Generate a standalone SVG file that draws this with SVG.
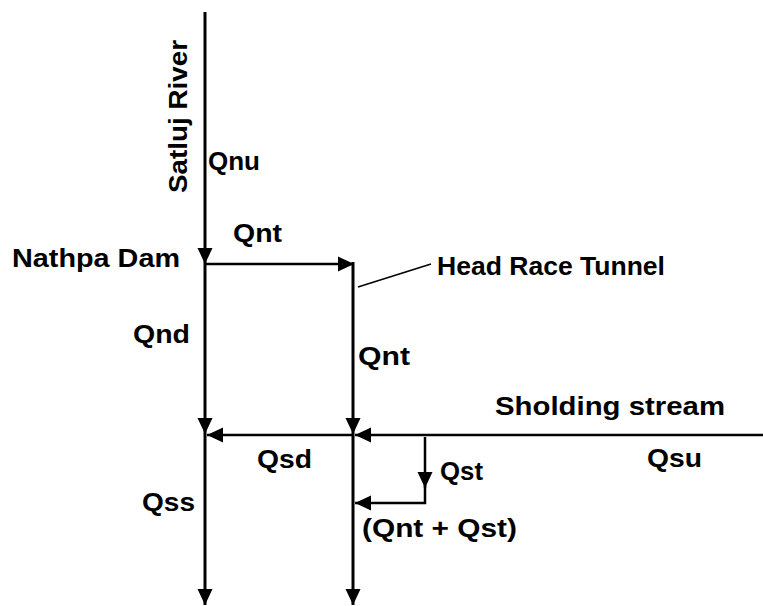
<svg xmlns="http://www.w3.org/2000/svg" width="763" height="606" viewBox="0 0 763 606">
<style>
text{font-family:"Liberation Sans",Arial,sans-serif;font-weight:bold;font-size:26px;fill:#000}
.l{stroke:#000;fill:none;stroke-linecap:butt}
.v{stroke-width:3}
.h{stroke-width:2.5}
.t{stroke-width:1.5}
</style>
<defs>
<marker id="ah" markerUnits="userSpaceOnUse" markerWidth="16" markerHeight="16" viewBox="0 0 16 16" refX="16" refY="8" orient="auto">
<path d="M0,0.5 L16,8 L0,15.5 Z" fill="#000"/>
</marker>
</defs>
<rect width="763" height="606" fill="#fff"/>
<g id="connectors">
<line class="l v" x1="205" y1="12" x2="205" y2="264" marker-end="url(#ah)"/>
<line class="l v" x1="205" y1="264" x2="205" y2="434" marker-end="url(#ah)"/>
<line class="l v" x1="205" y1="434" x2="205" y2="605" marker-end="url(#ah)"/>
<line class="l h" x1="205" y1="264" x2="354" y2="264" marker-end="url(#ah)"/>
<line class="l v" x1="353" y1="262" x2="353" y2="434" marker-end="url(#ah)"/>
<line class="l v" x1="353" y1="434" x2="353" y2="605" marker-end="url(#ah)"/>
<line class="l h" x1="763" y1="435" x2="355" y2="435" marker-end="url(#ah)"/>
<line class="l h" x1="353" y1="435" x2="207" y2="435" marker-end="url(#ah)"/>
<line class="l h" x1="425" y1="437" x2="425" y2="488" marker-end="url(#ah)"/>
<polyline class="l h" points="425,485 425,503 355,503" marker-end="url(#ah)"/>
<line class="l t" x1="358" y1="287" x2="431" y2="264"/>
</g>
<g id="satluj-river"><text transform="translate(187,116.5) rotate(-90)" text-anchor="middle" textLength="153" lengthAdjust="spacingAndGlyphs">Satluj River</text></g>
<g id="qnu"><text x="208" y="170" textLength="52" lengthAdjust="spacingAndGlyphs">Qnu</text></g>
<g id="qnt-top"><text x="233" y="242" textLength="49" lengthAdjust="spacingAndGlyphs">Qnt</text></g>
<g id="nathpa-dam"><text x="12" y="267" textLength="168" lengthAdjust="spacingAndGlyphs">Nathpa Dam</text></g>
<g id="head-race-tunnel"><text x="437" y="275" textLength="228" lengthAdjust="spacingAndGlyphs">Head Race Tunnel</text></g>
<g id="qnd"><text x="133" y="343" textLength="57" lengthAdjust="spacingAndGlyphs">Qnd</text></g>
<g id="qnt-mid"><text x="358" y="365" textLength="52" lengthAdjust="spacingAndGlyphs">Qnt</text></g>
<g id="sholding-stream"><text x="495" y="415" textLength="230" lengthAdjust="spacingAndGlyphs">Sholding stream</text></g>
<g id="qsd"><text x="257" y="468" textLength="55" lengthAdjust="spacingAndGlyphs">Qsd</text></g>
<g id="qsu"><text x="647" y="467" textLength="55" lengthAdjust="spacingAndGlyphs">Qsu</text></g>
<g id="qst"><text x="440" y="480" textLength="43" lengthAdjust="spacingAndGlyphs">Qst</text></g>
<g id="qss"><text x="142" y="511" textLength="53" lengthAdjust="spacingAndGlyphs">Qss</text></g>
<g id="qnt-qst"><text x="362" y="537" textLength="155" lengthAdjust="spacingAndGlyphs">(Qnt + Qst)</text></g>
</svg>
